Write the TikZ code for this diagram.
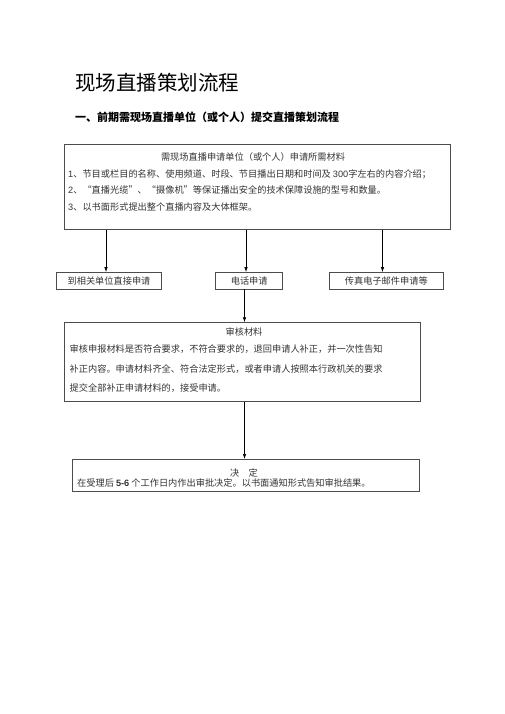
\documentclass[tikz,border=0pt]{standalone}
\usepackage{fontspec}
\setmainfont{Noto Sans CJK SC}
\newfontfamily\lat{Liberation Sans}
\usetikzlibrary{arrows.meta}
\tikzset{
  box/.style={draw=black!70, line width=0.8pt, inner sep=0pt},
  txt/.style={inner sep=0pt, font=\fontsize{9.2}{10}\selectfont, text=black!80},
  ln/.style={txt, anchor=west},
  arr/.style={-{Latex[length=5pt,width=3.5pt]}, line width=0.7pt},
}
\begin{document}
\begin{tikzpicture}[x=1pt,y=-1pt]
\useasboundingbox (0,0) rectangle (505,714);
\node[anchor=west, inner sep=0pt, font=\fontsize{20.5}{22}\selectfont] (title) at (75,83) {现场直播策划流程};
\node[anchor=west, inner sep=0pt, font=\fontsize{11}{12}\selectfont\bfseries] (sub) at (75,117.5) {一、前期需现场直播单位（或个人）提交直播策划流程};
% box 1
\draw[box] (64,144.5) rectangle (450.5,229.5);
\coordinate (b1a) at (106,229.5);
\coordinate (b1b) at (246,229.5);
\coordinate (b1c) at (382.5,229.5);
\node[txt] (t1) at (253,157) {需现场直播申请单位（或个人）申请所需材料};
\node[ln] (l1) at (68,174.5) {{\lat 1}、节目或栏目的名称、使用频道、时段、节目播出日期和时间及 {\lat 300}字左右的内容介绍；};
\node[ln] (l2) at (68,189.5) {{\lat 2}、“直播光缆”、“摄像机”等保证播出安全的技术保障设施的型号和数量。};
\node[ln] (l3) at (68,207) {{\lat 3}、以书面形式提出整个直播内容及大体框架。};
% small boxes
\node[box, minimum width=104.5pt, minimum height=16.5pt, txt, draw=black!70, line width=0.8pt] (a) at (109,280.8) {到相关单位直接申请};
\node[box, minimum width=67pt, minimum height=16.5pt, txt, draw=black!70, line width=0.8pt] (b) at (249.2,280.8) {电话申请};
\node[box, minimum width=114pt, minimum height=16.5pt, txt, draw=black!70, line width=0.8pt] (c) at (386.3,280.8) {传真电子邮件申请等};
\draw[arr] (b1a) -- (b1a |- a.north);
\draw[arr] (b1b) -- (b1b |- b.north);
\draw[arr] (b1c) -- (b1c |- c.north);
% review box
\node[box, minimum width=356.7pt, minimum height=78.7pt, anchor=north west] (r) at (63.5,322.3) {};
\node[txt] (rt) at (244,331.7) {审核材料};
\node[ln] (r1) at (69.5,349.3) {审核申报材料是否符合要求，不符合要求的，退回申请人补正，并一次性告知};
\node[ln] (r2) at (69.5,369.3) {补正内容。申请材料齐全、符合法定形式，或者申请人按照本行政机关的要求};
\node[ln] (r3) at (69.5,388.3) {提交全部补正申请材料的，接受申请。};
\draw[arr] (b.south -| 244.5,0) -- (r.north -| 244.5,0);
% decision box
\node[box, minimum width=347.7pt, minimum height=32pt, anchor=north west] (d) at (71.7,459) {};
\node[txt] (dt) at (244,473.3) {决\quad 定};
\node[ln] (d1) at (77,483.3) {在受理后 {\lat\bfseries 5-6} 个工作日内作出审批决定。以书面通知形式告知审批结果。};
\draw[arr] (r.south -| 244.5,0) -- (d.north -| 244.5,0);
\end{tikzpicture}
\end{document}
